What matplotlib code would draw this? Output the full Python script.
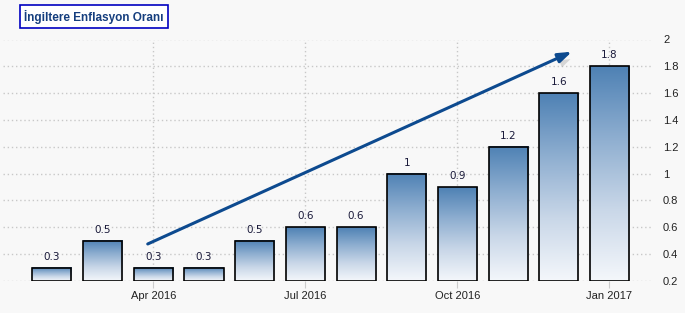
import matplotlib
matplotlib.use("Agg")
import matplotlib.pyplot as plt
import numpy as np
from matplotlib.patches import Rectangle
from matplotlib.colors import LinearSegmentedColormap
import matplotlib.patheffects as pe

months = ["Feb 2016", "Mar 2016", "Apr 2016", "May 2016", "Jun 2016", "Jul 2016",
          "Aug 2016", "Sep 2016", "Oct 2016", "Nov 2016", "Dec 2016", "Jan 2017"]
values = [0.3, 0.5, 0.3, 0.3, 0.5, 0.6, 0.6, 1.0, 0.9, 1.2, 1.6, 1.8]
value_labels = ["0.3", "0.5", "0.3", "0.3", "0.5", "0.6", "0.6", "1", "0.9", "1.2", "1.6", "1.8"]
xtick_labels = ["Apr 2016", "Jul 2016", "Oct 2016", "Jan 2017"]
yticks = [0.2, 0.4, 0.6, 0.8, 1.0, 1.2, 1.4, 1.6, 1.8, 2.0]
ytick_labels = ["0.2", "0.4", "0.6", "0.8", "1", "1.2", "1.4", "1.6", "1.8", "2"]
title = "İngiltere Enflasyon Oranı"
arrow_start = (1.89, 0.476)
arrow_end = (10.26, 1.909)

W, H = 685, 313
fig = plt.figure(figsize=(W / 100, H / 100), dpi=100)
bg = "#f8f8f8"
fig.patch.set_facecolor(bg)

ax_left, ax_right, ax_top, ax_bot = 3, 652, 39.5, 281
ax = fig.add_axes([ax_left / W, 1 - ax_bot / H, (ax_right - ax_left) / W, (ax_bot - ax_top) / H])
ax.set_facecolor(bg)

ymin, ymax = 0.2, 2.0

cmap = LinearSegmentedColormap.from_list("g", ["#f4f7fb", "#c9d7e8", "#8eaed0", "#4e81b4"])
grad = np.linspace(0, 1, 256).reshape(-1, 1)
bw = 0.77
x = np.arange(len(values))
for xi, v, lab in zip(x, values, value_labels):
    ax.imshow(grad, cmap=cmap, origin="lower", aspect="auto",
              extent=[xi - bw / 2, xi + bw / 2, ymin, v], zorder=3, interpolation="bilinear")
    ax.add_patch(Rectangle((xi - bw / 2, ymin), bw, v - ymin, fill=False,
                           edgecolor="black", linewidth=1.2, zorder=4))
    ax.text(xi, v + 0.045, lab, ha="center", va="bottom", fontsize=7.5,
            family="DejaVu Sans", color="#1a1a3a", zorder=5)

ax.set_xlim(-0.966, 11.84)
ax.set_ylim(ymin, ymax)

# grid
for yv in yticks:
    ax.axhline(yv, color="#c8c8c8", linestyle=(0, (1, 2)), linewidth=1, zorder=1)
tick_idx = [months.index(m) for m in xtick_labels]
for ti in tick_idx:
    ax.axvline(ti, color="#c8c8c8", linestyle=(0, (1, 2)), linewidth=1, zorder=1)

ax.set_xticks(tick_idx)
ax.set_xticklabels(xtick_labels, fontsize=8, family="Liberation Sans", color="#222222")
ax.tick_params(axis="x", length=5, color="#cccccc", pad=2)
ax.yaxis.tick_right()
ax.set_yticks(yticks)
ax.set_yticklabels(ytick_labels, fontsize=8, family="Liberation Sans", color="#222222")
ax.tick_params(axis="y", length=0, pad=8)
for s in ax.spines.values():
    s.set_visible(False)

# arrow
ax.annotate("", xy=arrow_end, xytext=arrow_start,
            arrowprops=dict(arrowstyle="-|>,head_length=0.8,head_width=0.28",
                            color="#0d4a8f", lw=2.2, shrinkA=0, shrinkB=0,
                            path_effects=[pe.SimplePatchShadow(offset=(2, -4), shadow_rgbFace="#888888", alpha=0.3),
                                          pe.Normal()]),
            zorder=6)

# title box
fig.text(24 / W, 1 - 16.5 / H, title, ha="left", va="center", fontsize=8.5,
         family="Liberation Sans", fontweight="bold", color="#153e7e",
         bbox=dict(boxstyle="square,pad=0.38", facecolor="white", edgecolor="#0000c0", linewidth=1.2))

fig.savefig("out.png", dpi=100, facecolor=bg)
